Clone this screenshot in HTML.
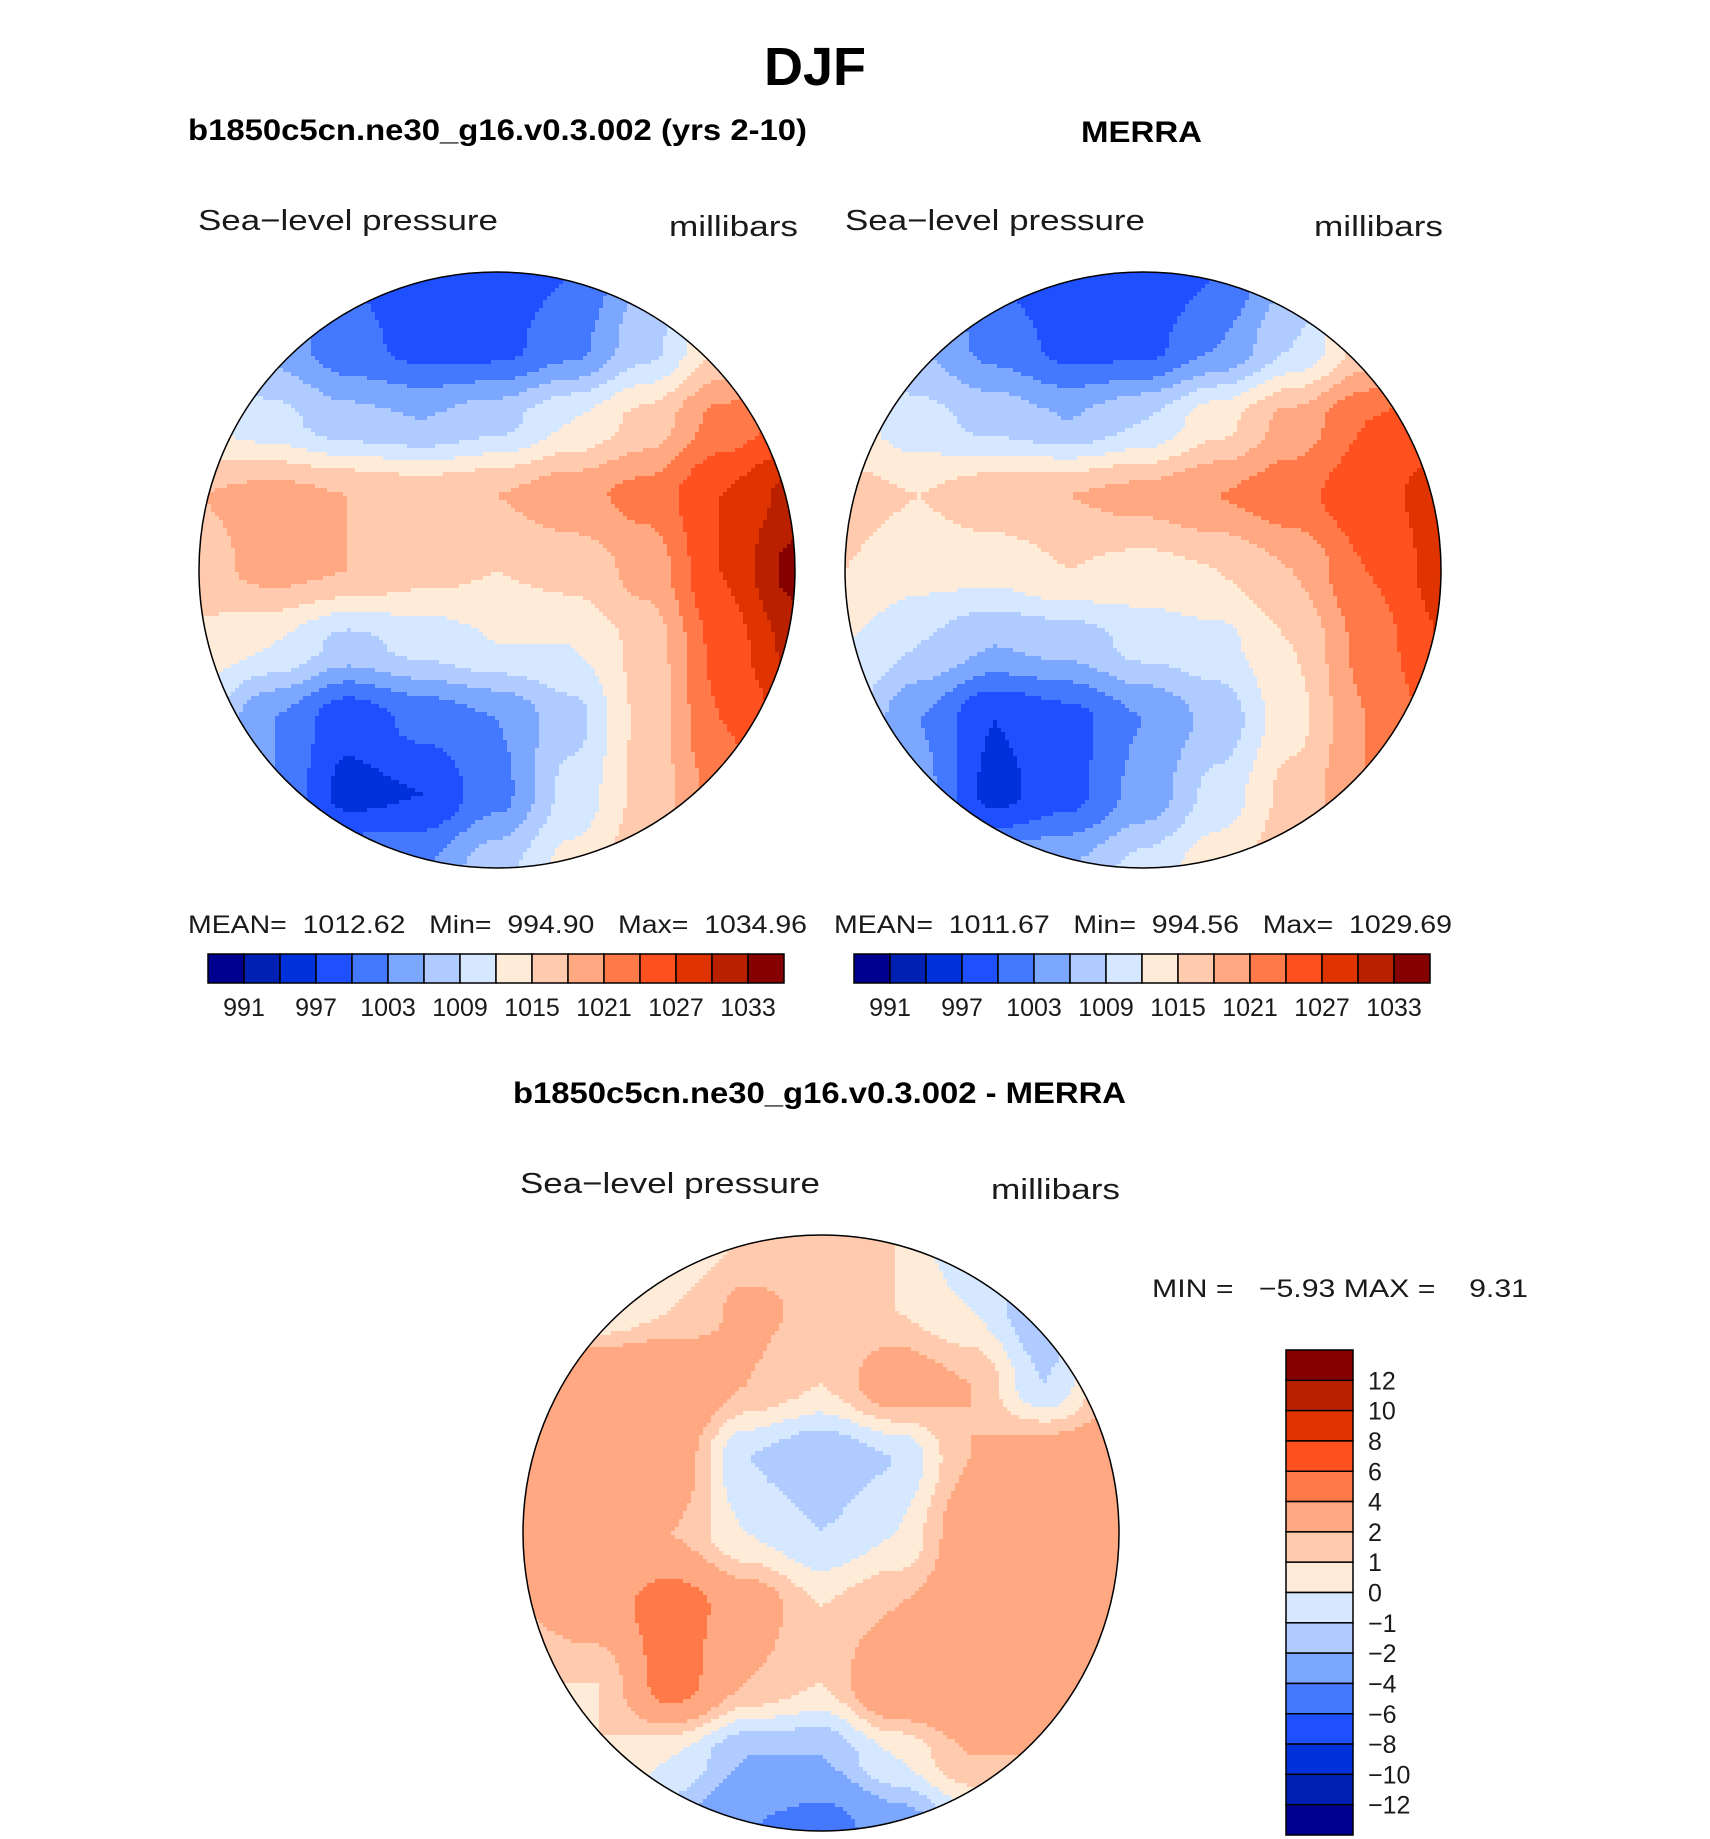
<!DOCTYPE html>
<html>
<head>
<meta charset="utf-8">
<style>
  html,body{margin:0;padding:0;background:#fff;}
  svg{display:block;}
  text{font-family:"Liberation Sans",sans-serif;fill:#000;}
  .b{font-weight:bold;}
  .t{fill:#1a1a1a;}
</style>
</head>
<body>
<svg id="page" width="1710" height="1839" viewBox="0 0 1710 1839">
  <text x="815" y="85" font-size="54" class="b" text-anchor="middle">DJF</text>
  <text x="188" y="140" font-size="30" class="b" textLength="619" lengthAdjust="spacingAndGlyphs">b1850c5cn.ne30_g16.v0.3.002 (yrs 2-10)</text>
  <text x="1081" y="142" font-size="30" class="b" textLength="121" lengthAdjust="spacingAndGlyphs">MERRA</text>

  <text x="198" y="230" font-size="29" class="t" textLength="300" lengthAdjust="spacingAndGlyphs">Sea−level pressure</text>
  <text x="669" y="236" font-size="29" class="t" textLength="129" lengthAdjust="spacingAndGlyphs">millibars</text>
  <text x="845" y="230" font-size="29" class="t" textLength="300" lengthAdjust="spacingAndGlyphs">Sea−level pressure</text>
  <text x="1314" y="236" font-size="29" class="t" textLength="129" lengthAdjust="spacingAndGlyphs">millibars</text>

  <g id="mapA"></g>
  <g id="mapB"></g>

  <text x="188" y="933" font-size="25" class="t" textLength="619" lengthAdjust="spacingAndGlyphs" xml:space="preserve">MEAN=  1012.62   Min=  994.90   Max=  1034.96</text>
  <text x="834" y="933" font-size="25" class="t" textLength="618" lengthAdjust="spacingAndGlyphs" xml:space="preserve">MEAN=  1011.67   Min=  994.56   Max=  1029.69</text>

  <g id="cbA"></g>
  <g id="cbB"></g>

  <text x="513" y="1103" font-size="30" class="b" textLength="613" lengthAdjust="spacingAndGlyphs">b1850c5cn.ne30_g16.v0.3.002 - MERRA</text>
  <text x="520" y="1193" font-size="29" class="t" textLength="300" lengthAdjust="spacingAndGlyphs">Sea−level pressure</text>
  <text x="991" y="1199" font-size="29" class="t" textLength="129" lengthAdjust="spacingAndGlyphs">millibars</text>
  <text x="1152" y="1297" font-size="25" class="t" textLength="376" lengthAdjust="spacingAndGlyphs" xml:space="preserve">MIN =   −5.93 MAX =    9.31</text>

  <g id="mapC"></g>
  <g id="cbC"></g>
</svg>
<script>
const palette = ["#00008f","#0020b4","#0032dc","#1e50ff","#4478ff","#7ba7ff","#afcbff","#d5e8ff","#ffecd8","#ffcaae","#ffa882","#ff7a48","#ff5020","#e03400","#b82000","#850000"];
const levelsAbs = [991,994,997,1000,1003,1006,1009,1012,1015,1018,1021,1024,1027,1030,1033];
const absTickLabels = ["991","997","1003","1009","1015","1021","1027","1033"];
const levelsDiff = [-12,-10,-8,-6,-4,-2,-1,0,1,2,4,6,8,10,12];
const diffTickLabels = ["12","10","8","6","4","2","1","0","−1","−2","−4","−6","−8","−10","−12"];

const modelSLP = [
 [1006,1003,1000,998,998,1000,1006,1012,1016],
 [1008,1005,1001,999,999,1002,1008,1015,1020],
 [1012,1010,1007,1006,1008,1012,1016,1022,1025],
 [1018,1019,1018,1017,1018,1020,1022,1027,1031],
 [1017,1019,1018,1016,1015,1016,1019,1027,1034],
 [1014,1012,1008,1010,1012,1012,1016,1025,1031],
 [1010,1003,998,1001,1003,1008,1016,1024,1028],
 [1008,1003,996,997,1002,1010,1016,1022,1025],
 [1008,1006,1003,1003,1008,1013,1017,1020,1022]
];
const merraSLP = [
 [1008,1004,1000,997,997,1000,1006,1012,1016],
 [1010,1006,1002,999,999,1003,1009,1016,1021],
 [1013,1010,1008,1006,1009,1014,1019,1024,1026],
 [1016,1015,1017,1018,1019,1021,1023,1026,1028],
 [1015,1013,1013,1015,1014,1015,1018,1024,1028],
 [1012,1009,1006,1007,1010,1011,1015,1022,1027],
 [1010,1003,997,999,1003,1007,1014,1021,1025],
 [1009,1004,996,999,1004,1010,1016,1021,1023],
 [1009,1007,1005,1006,1010,1014,1017,1019,1021]
];
const diffSLP = [
 [-2,-2,0,1,1.8,1,-1,-2,0],
 [-1,0,1,2.3,1.7,1,0,-2,1],
 [1,4,4,2,1,3,2,-1,2],
 [2,4,3,-1,-2,-1,2,3,3],
 [3,3,2,0,-1,0,3,4,3],
 [2,3,5,3,1,2,3,3,3],
 [1,1,5,2,1,4,4,3,2],
 [0,1,0,-2,-2,0,2,2,1],
 [0,0,-2,-4,-5,-3,-1,0,0]
];

const NS = "http://www.w3.org/2000/svg";
function el(tag, attrs, parent){
  const e = document.createElementNS(NS, tag);
  for (const k in attrs) e.setAttribute(k, attrs[k]);
  if (parent) parent.appendChild(e);
  return e;
}
function classify(v, levels){
  let i = 0; while (i < levels.length && v >= levels[i]) i++; return i;
}
function sample(grid, u, v){
  const n = grid.length - 1;
  const x = Math.min(Math.max(u,0),1) * n, y = Math.min(Math.max(v,0),1) * n;
  const i = Math.min(Math.floor(x), n-1), j = Math.min(Math.floor(y), n-1);
  let fx = x - i, fy = y - j;
  fx = fx*fx*(3-2*fx); fy = fy*fy*(3-2*fy);
  const a = grid[j][i], b = grid[j][i+1], c = grid[j+1][i], d = grid[j+1][i+1];
  return a*(1-fx)*(1-fy) + b*fx*(1-fy) + c*(1-fx)*fy + d*fx*fy;
}
function drawMap(gid, grid, levels, cx, cy, r, clipId){
  const g = document.getElementById(gid);
  const defs = el("defs", {}, g);
  const cp = el("clipPath", {id: clipId}, defs);
  el("circle", {cx: cx, cy: cy, r: r}, cp);
  const field = el("g", {"clip-path": "url(#" + clipId + ")"}, g);
  const step = 4;
  const x0 = cx - r, y0 = cy - r, size = 2*r;
  for (let py = 0; py < size; py += step){
    let runStart = 0, runCls = -1;
    const v = (py + step/2) / size;
    for (let px = 0; px < size + step; px += step){
      const u = (px + step/2) / size;
      const cls = px < size ? classify(sample(grid, u, v), levels) : -2;
      if (cls !== runCls){
        if (runCls >= 0){
          const rc = el("rect", {x: x0 + runStart, y: y0 + py, width: Math.min(px, size) - runStart + 0.6, height: step + 0.6, fill: palette[runCls]}, field);
          
          
        }
        runStart = px; runCls = cls;
      }
    }
  }
  const outline = el("circle", {cx: cx, cy: cy, r: r, fill: "none", stroke: "#000", "stroke-width": 1.5}, g);
  
  
}
function drawHBar(gid, x, y, w, h, labels){
  const g = document.getElementById(gid);
  const bw = w / palette.length;
  palette.forEach((c, i) => {
    const rc = el("rect", {x: x + i*bw, y: y, width: bw, height: h, fill: c, stroke: "#000", "stroke-width": 1.5}, g);
    
    
  });
  labels.forEach((t, k) => {
    const tx = el("text", {x: x + (2*k+1)*bw, y: y + h + 33, "font-size": 25, "text-anchor": "middle", class: "t"}, g);
    tx.textContent = t;
    
    
  });
}
function drawVBar(gid, x, y, w, h, labels){
  const g = document.getElementById(gid);
  const n = palette.length, bh = h / n;
  for (let i = 0; i < n; i++){
    const rc = el("rect", {x: x, y: y + i*bh, width: w, height: bh, fill: palette[n-1-i], stroke: "#000", "stroke-width": 1.5}, g);
    
    
  }
  labels.forEach((t, k) => {
    const tx = el("text", {x: x + w + 15, y: y + (k+1)*bh + 9, "font-size": 25, class: "t"}, g);
    tx.textContent = t;
    
    
  });
}
drawMap("mapA", modelSLP, levelsAbs, 497, 570, 298, "clipA");
drawMap("mapB", merraSLP, levelsAbs, 1143, 570, 298, "clipB");
drawMap("mapC", diffSLP, levelsDiff, 821, 1533, 298, "clipC");
drawHBar("cbA", 208, 954, 576, 29, absTickLabels);
drawHBar("cbB", 854, 954, 576, 29, absTickLabels);
drawVBar("cbC", 1286, 1350, 67, 485, diffTickLabels);
</script>
</body>
</html>
